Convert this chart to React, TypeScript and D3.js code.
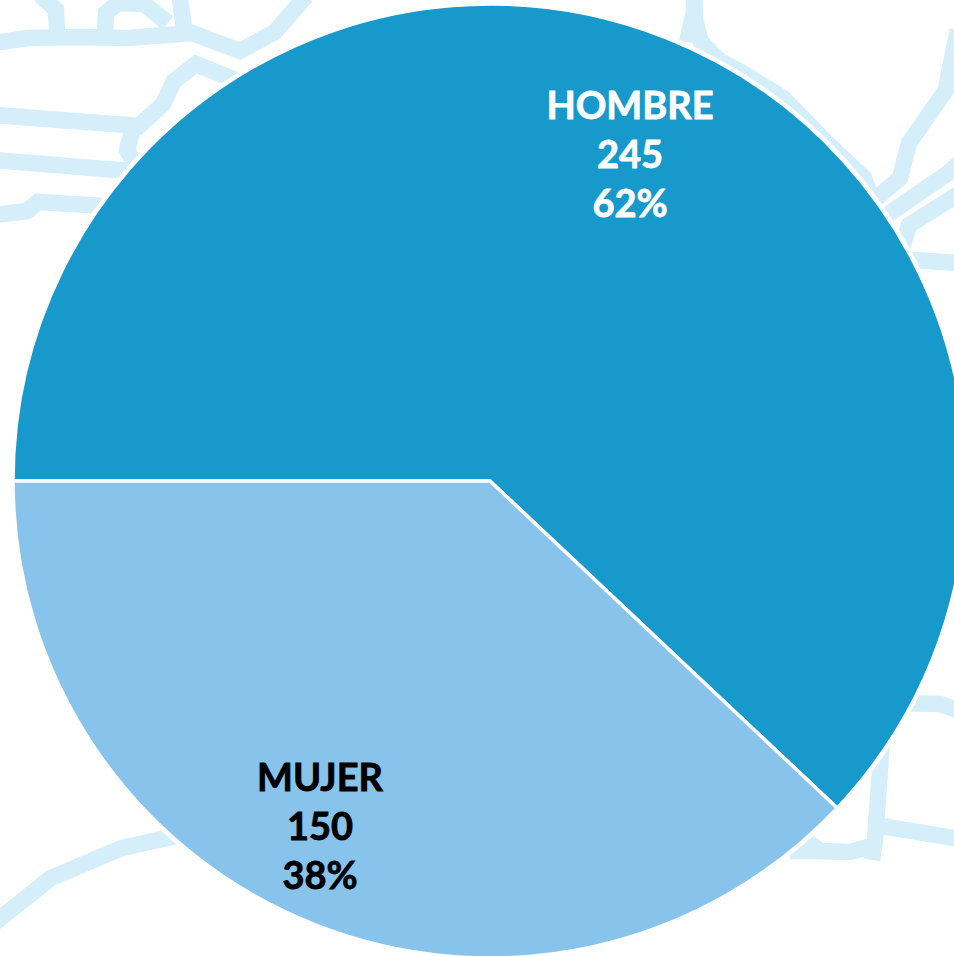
import React from "react";
import * as d3 from "d3";

const categories = ["HOMBRE", "MUJER"];
const counts = [245, 150];
const percents = ["62%", "38%"];
const sliceColors = ["#1899cb", "#88c3eb"];
const labelColors = ["#ffffff", "#000000"];

// Faint street map behind the pie
const streets: [number, number][][] = [
  [[-5, 43], [27, 38], [80, 37], [127, 38], [192, 33], [240, 51], [275, 32], [306, -4]],
  [[40, -5], [56, 10], [57, 32]],
  [[105, 34], [106, 13], [118, 3], [144, 4], [168, 23]],
  [[180, -2], [184, 28]],
  [[-5, 115], [139, 126], [163, 104], [174, 81], [196, 64], [240, 82]],
  [[133, 128], [127, 150], [136, 166]],
  [[-5, 160], [130, 171]],
  [[-5, 215], [27, 211], [38, 202], [105, 206]],
  [[694, -3], [695, 20], [701, 42], [720, 61], [746, 75], [783, 98], [828, 144], [864, 178], [872, 200]],
  [[694, -3], [694, 12], [687, 42]],
  [[958, 30], [950, 68], [946, 90], [909, 143], [900, 178], [872, 202]],
  [[880, 220], [948, 173], [962, 161]],
  [[962, 192], [909, 225], [900, 255]],
  [[895, 259], [960, 263]],
  [[895, 703], [940, 704], [962, 712]],
  [[882, 740], [875, 840], [872, 860]],
  [[875, 825], [960, 839]],
  [[790, 851], [815, 851], [850, 852], [872, 846]],
  [[803, 838], [820, 851]],
  [[-12, 928], [51, 878], [122, 848], [185, 834]],
];

const labelAnchors: [number, number][] = [[630, 119], [320, 791]];

const CX = 490;
const CY = 481;
const R = 477;

export default function App() {
  const pie = d3
    .pie<number>()
    .sort(null)
    .startAngle(-Math.PI / 2)
    .endAngle((3 * Math.PI) / 2);
  const arc = d3.arc<d3.PieArcDatum<number>>().innerRadius(0).outerRadius(R);
  const line = d3.line();
  const arcs = pie(counts);

  return (
    <svg
      width={954}
      height={956}
      viewBox="0 0 954 956"
      style={{ position: "absolute", left: 0, top: 0, background: "#fff" }}
    >
      <g fill="none" stroke="#d4eff9" strokeWidth={16.5} strokeLinejoin="miter" strokeLinecap="butt">
        {streets.map((s, i) => (
          <path key={i} d={line(s) ?? ""} />
        ))}
      </g>
      <circle cx={CX} cy={CY} r={R + 3} fill="#fff" />
      <g transform={`translate(${CX},${CY})`}>
        {arcs.map((a, i) => (
          <path key={i} d={arc(a) ?? ""} fill={sliceColors[i]} stroke="#fff" strokeWidth={3.5} />
        ))}
      </g>
      {categories.map((c, i) => {
        const [x, y] = labelAnchors[i];
        return (
          <text
            key={c}
            x={x}
            y={y}
            textAnchor="middle"
            fill={labelColors[i]}
            stroke={labelColors[i]}
            strokeWidth={0.8}
            fontFamily="Lato, sans-serif"
            fontWeight={700}
            fontSize={38}
          >
            <tspan x={x}>{c}</tspan>
            <tspan x={x} dy={49}>{counts[i]}</tspan>
            <tspan x={x} dy={49}>{percents[i]}</tspan>
          </text>
        );
      })}
    </svg>
  );
}
